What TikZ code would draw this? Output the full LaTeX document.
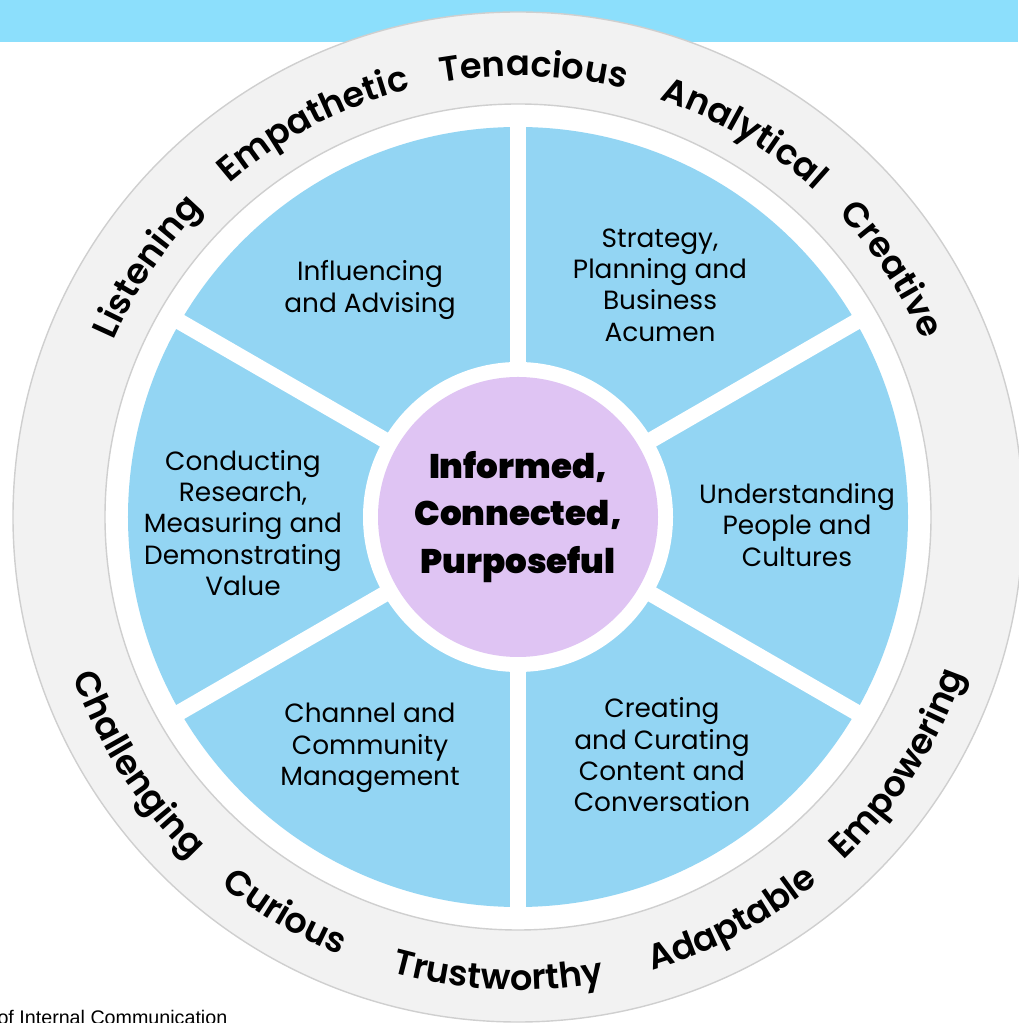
\documentclass[tikz,border=0pt]{standalone}
\usepackage{fontspec}
\setmainfont{Poppins}
\newfontfamily\wordfont{Poppins SemiBold}
\newfontfamily\heavyfont{Poppins Black}
\newfontfamily\notefont{Liberation Sans}
\usetikzlibrary{decorations.text}
\definecolor{bandblue}{HTML}{8CDFFC}
\definecolor{ringgrey}{HTML}{F2F2F2}
\definecolor{edgegrey}{HTML}{CFCFCF}
\definecolor{sectorblue}{HTML}{93D5F3}
\definecolor{corepurple}{HTML}{DFC4F3}
\def\upword#1#2{\path[decorate,decoration={text along path,text align=center,
    text={|\wordfont\fontsize{10}{12}\selectfont|#2}}]
    (#1+25:4.41) arc[start angle=#1+25, end angle=#1-25, radius=4.41];}
\def\downword#1#2{\path[decorate,decoration={text along path,text align=center,
    text={|\wordfont\fontsize{10}{12}\selectfont|#2}}]
    (#1-25:4.73) arc[start angle=#1-25, end angle=#1+25, radius=4.73];}
\def\gap#1{\draw[white,line width=0.16cm] (O) -- (#1:3.95);}

\begin{document}
\begin{tikzpicture}[
    skill/.style={align=center,inner sep=0pt,font=\fontsize{7.5}{8.9}\selectfont},
    core/.style={circle,fill=corepurple,minimum size=2.8cm,inner sep=0pt,align=center,
      font=\heavyfont\fontsize{9.7}{13.6}\selectfont}]
  \useasboundingbox (-5.18,-5.06) rectangle (5.00,5.17);
  \coordinate (O) at (0,0);
  % top band
  \fill[bandblue] (-5.18,4.75) rectangle (5.00,5.17);
  % outer ring
  \draw[edgegrey,line width=0.4pt,fill=ringgrey] (O) circle[radius=5.05];
  \draw[edgegrey,line width=0.4pt,fill=white] (O) circle[radius=4.13];
  % sectors
  \fill[sectorblue] (O) circle[radius=3.90];
  \gap{30} \gap{90} \gap{150} \gap{210} \gap{270} \gap{330}
  \fill[white] (O) circle[radius=1.55];
  \node[core] (heart) at (O) {Informed,\\Connected,\\Purposeful};
  % areas
  \node[skill] (influence) at (-1.48,2.27) {Influencing\\and Advising};
  \node[skill] (strategy) at (1.42,2.32) {Strategy,\\Planning and\\Business\\Acumen};
  \node[skill] (people) at (2.79,-0.08) {Understanding\\People and\\Cultures};
  \node[skill] (content) at (1.44,-2.38) {Creating\\and Curating\\Content and\\Conversation};
  \node[skill] (channel) at (-1.48,-2.31) {Channel and\\Community\\Management};
  \node[skill] (research) at (-2.75,-0.06) {Conducting\\Research,\\Measuring and\\Demonstrating\\Value};
  % traits
  \upword{146}{Listening}
  \upword{117.5}{Empathetic}
  \upword{88}{Tenacious}
  \upword{59.5}{Analytical}
  \upword{33.5}{Creative}
  \downword{-147}{Challenging}
  \downword{-120.5}{Curious}
  \downword{-92.5}{Trustworthy}
  \downword{-62}{Adaptable}
  \downword{-33}{Empowering}
  \node[anchor=base east,inner sep=0pt,font=\notefont\fontsize{5.6}{6.7}\selectfont]
    (credit) at (-2.90,-5.075) {of Internal Communication};
\end{tikzpicture}
\end{document}
